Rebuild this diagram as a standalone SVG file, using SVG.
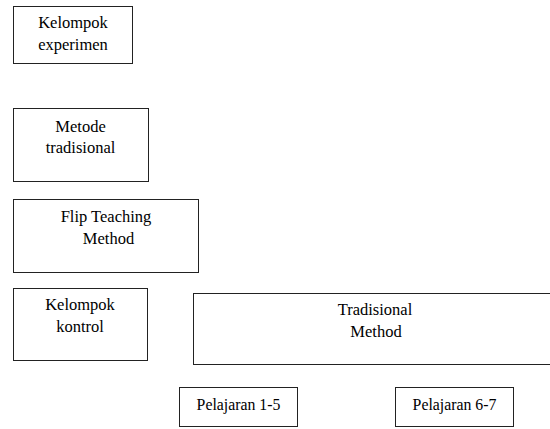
<svg xmlns="http://www.w3.org/2000/svg" width="550" height="429" viewBox="0 0 550 429">
<style>
rect{fill:#fff;stroke:#222;stroke-width:1}
text{font-family:'Liberation Serif','Times New Roman',serif;font-size:16.5px;fill:#000;text-anchor:middle}
.s{font-size:15.8px}
</style>
<rect x="0" y="0" width="550" height="429" style="stroke:none"/>
<g id="kelompok-experimen"><rect x="13.5" y="6.5" width="119" height="57"/><text x="73" y="28">Kelompok</text><text x="73" y="50">experimen</text></g>
<g id="metode-tradisional"><rect x="13.5" y="108.5" width="135" height="73"/><text x="80.5" y="132">Metode</text><text x="80.5" y="153">tradisional</text></g>
<g id="flip-teaching"><rect x="13.5" y="199.5" width="185" height="73"/><text x="106" y="222">Flip Teaching</text><text x="108.5" y="244">Method</text></g>
<g id="kelompok-kontrol"><rect x="13.5" y="288.5" width="134" height="72"/><text x="80" y="310">Kelompok</text><text x="80" y="332">kontrol</text></g>
<g id="tradisional-method"><rect x="193.5" y="293.5" width="360" height="71"/><text x="375" y="315">Tradisional</text><text x="376" y="337">Method</text></g>
<g id="pelajaran-1-5"><rect x="179.5" y="387.5" width="118" height="39"/><text class="s" x="238.5" y="410">Pelajaran 1-5</text></g>
<g id="pelajaran-6-7"><rect x="395.5" y="387.5" width="118" height="39"/><text class="s" x="454.5" y="410">Pelajaran 6-7</text></g>
<g id="connectors"></g>
</svg>
